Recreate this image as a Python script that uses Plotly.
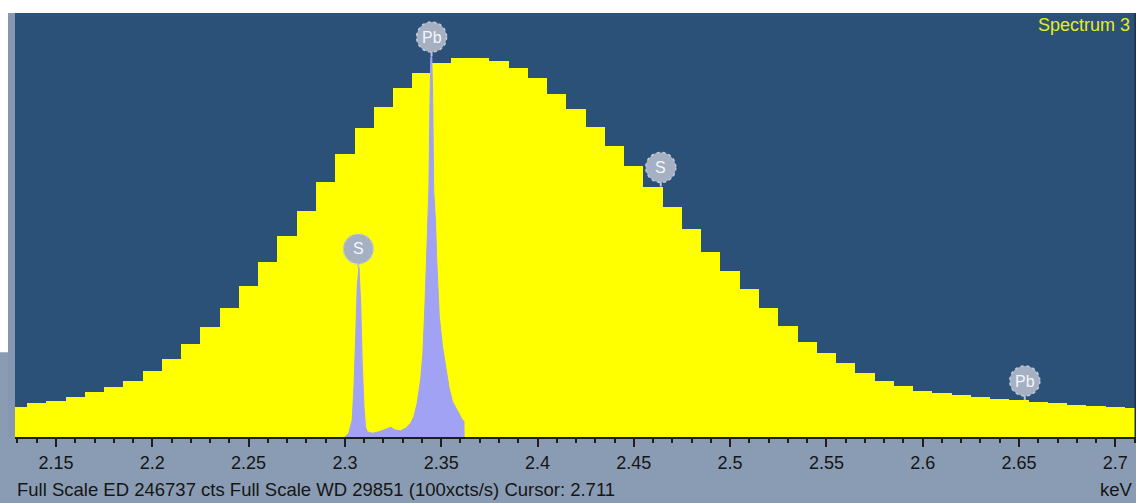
import numpy as np
import plotly.graph_objects as go

# ---------------- data ----------------
ED_FULL_SCALE = 246737          # cts (full scale of the ED spectrum)
WD_FULL_SCALE = 29851           # 100 x cts/s (full scale of the WD scan)
CURSOR_KEV = 2.711

ed_bin_start = 2.13             # keV, centre of first ED channel
ed_bin_width = 0.01             # keV
ed_counts = [17630, 19960, 21120, 23100, 26010, 28920, 32760, 38580, 45390, 54120,
             64180, 74890, 87870, 102010, 116960, 131690, 148560, 164680, 179810, 191850,
             202910, 211640, 217920, 220830, 220830, 218800, 214550, 208730, 199600, 190870,
             180570, 169510, 157870, 145770, 134010, 120860, 107830, 96770, 85950, 74890,
             64770, 55460, 48710, 42890, 37070, 32590, 29680, 26940, 25780, 24440,
             23100, 22110, 21530, 20540, 19610, 18620, 18040, 17630, 16700]

wd_energy = [2.3000, 2.3020, 2.3038, 2.3047, 2.3056, 2.3064, 2.3073, 2.3082, 2.3090, 2.3099,
             2.3107, 2.3116, 2.3142, 2.3177, 2.3211, 2.3237, 2.3263, 2.3289, 2.3315, 2.3341,
             2.3358, 2.3375, 2.3393, 2.3405, 2.3416, 2.3424, 2.3431, 2.3436, 2.3442, 2.3446,
             2.3451, 2.3456, 2.3461, 2.3470, 2.3478, 2.3490, 2.3507, 2.3524, 2.3541, 2.3559,
             2.3576, 2.3593, 2.3610, 2.3618, 2.3619]
wd_counts = [0, 260, 1200, 3540, 7060, 10580, 11900, 9430, 5210, 2130,
             725, 370, 260, 370, 540, 680, 490, 440, 610, 960,
             1430, 2370, 4010, 5890, 9410, 12950, 15280, 17390, 23720, 26750,
             26820, 23720, 17390, 15280, 12110, 8470, 6360, 4950, 3450, 2490,
             2040, 1690, 1200, 1130, 0]

element_names = ["S", "Pb", "S", "Pb"]
element_energies = [2.307, 2.345, 2.464, 2.653]
element_spectrum = ["WD", "WD", "ED", "ED"]

x_range = [2.12871, 2.71075]
tick_start = 2.15
tick_step = 0.05
minor_step = 0.01

spectrum_name = "Spectrum 3"
footer_text = (f"Full Scale ED {ED_FULL_SCALE} cts Full Scale WD {WD_FULL_SCALE} "
               f"(100xcts/s) Cursor: {CURSOR_KEV}")
unit_text = "keV"

# ---------------- style ----------------
PLOT_BG = "#2c5179"
PAPER_BG = "#8a9cb3"
YELLOW = "#ffff00"
PURPLE = "#a2a2f4"
LABEL_FILL = "#a5b0c3"
LABEL_EDGE = "#c3cad7"
FONT = "Liberation Sans, Arial, sans-serif"

W, H = 1136, 503
ML, MR, MT, MB = 15, 0, 13, 66
PW, PH = W - ML - MR, H - MT - MB

ed_energy = [round(ed_bin_start + i * ed_bin_width, 4) for i in range(len(ed_counts))]

fig = go.Figure()
fig.add_trace(go.Bar(x=ed_energy, y=ed_counts, width=ed_bin_width,
                     marker=dict(color=YELLOW, line=dict(width=0)),
                     yaxis="y", hoverinfo="skip"))
fig.add_trace(go.Scatter(x=wd_energy, y=wd_counts, mode="lines",
                         line=dict(color=PURPLE, width=1), fill="tozeroy",
                         fillcolor=PURPLE, yaxis="y2", hoverinfo="skip"))

shapes = []
annotations = []

# element line markers
ed_e = np.array(ed_energy)
wd_e = np.array(wd_energy)
wd_c = np.array(wd_counts)
for name, e, spec in zip(element_names, element_energies, element_spectrum):
    if spec == "ED":
        idx = int(np.argmin(np.abs(ed_e - e)))
        v = ed_counts[idx]
        yref = "y"
    else:
        sel = np.abs(wd_e - e) <= 0.001
        v = float(wd_c[sel].max())
        yref = "y2"
    shapes.append(dict(type="line", xref="x", yref=yref,
                       xsizemode="pixel", ysizemode="pixel",
                       xanchor=e, yanchor=v, x0=0, x1=0, y0=0, y1=10,
                       line=dict(color="#b9c2d1", width=2), layer="above"))
    shapes.append(dict(type="circle", xref="x", yref=yref,
                       xsizemode="pixel", ysizemode="pixel",
                       xanchor=e, yanchor=v, x0=-15, x1=15, y0=4, y1=34,
                       fillcolor=LABEL_FILL,
                       line=dict(color=LABEL_EDGE, width=1.5, dash="dot"), layer="above"))
    annotations.append(dict(x=e, y=v, xref="x", yref=yref, yshift=19, text=name,
                            showarrow=False, xanchor="center", yanchor="middle",
                            font=dict(family=FONT, size=16, color="#f4f6fa")))

# white top band, white left edge and steel left strip
shapes.append(dict(type="rect", xref="paper", yref="paper", x0=-0.02, x1=1.02,
                   y0=1, y1=1 + (MT + 2) / PH, fillcolor="white", line=dict(width=0),
                   layer="above"))
shapes.append(dict(type="rect", xref="paper", yref="paper", x0=-(ML + 1) / PW, x1=-7 / PW,
                   y0=0.2, y1=1, fillcolor="white", line=dict(width=0), layer="above"))
shapes.append(dict(type="rect", xref="paper", yref="paper", x0=-7 / PW, x1=0,
                   y0=0, y1=1, fillcolor="#8797b2", line=dict(width=0), layer="above"))
# right border line
shapes.append(dict(type="line", xref="paper", yref="paper", x0=1, x1=1, y0=0, y1=1,
                   line=dict(color="#1c3350", width=3), layer="above"))

annotations.append(dict(x=1, y=1 - 12.5 / PH, xref="paper", yref="paper",
                        xanchor="right", yanchor="middle", xshift=-4,
                        text=spectrum_name, showarrow=False,
                        font=dict(family=FONT, size=18, color="#e4ee1c")))
annotations.append(dict(x=0, y=-52 / PH, xref="paper", yref="paper",
                        xanchor="left", yanchor="middle", text=footer_text,
                        showarrow=False, font=dict(family=FONT, size=18.5, color="#151515")))
annotations.append(dict(x=1, y=-52 / PH, xref="paper", yref="paper",
                        xanchor="right", yanchor="middle", xshift=-1, text=unit_text,
                        showarrow=False, font=dict(family=FONT, size=18.5, color="#151515")))

fig.update_layout(
    width=W, height=H, autosize=False,
    margin=dict(l=ML, r=MR, t=MT, b=MB, pad=0),
    paper_bgcolor=PAPER_BG, plot_bgcolor=PLOT_BG,
    showlegend=False, bargap=0, hovermode=False,
    xaxis=dict(range=x_range, tick0=tick_start, dtick=tick_step,
               showgrid=False, zeroline=False,
               showline=True, linecolor="#1e1e1e", linewidth=2,
               ticks="outside", ticklen=8, tickwidth=2, tickcolor="#1e1e1e",
               ticklabelstandoff=0,
               tickfont=dict(family=FONT, size=18, color="#151515"),
               minor=dict(dtick=minor_step, ticks="outside", ticklen=4,
                          tickwidth=2, tickcolor="#1e1e1e", showgrid=False)),
    yaxis=dict(range=[0, ED_FULL_SCALE], visible=False, fixedrange=True),
    yaxis2=dict(range=[0, WD_FULL_SCALE], overlaying="y", visible=False),
    shapes=shapes, annotations=annotations,
)

fig.write_html("out.html",
               config={"displayModeBar": False},
               post_script="document.body.style.margin='0';"
                           "document.body.style.overflow='hidden';")
